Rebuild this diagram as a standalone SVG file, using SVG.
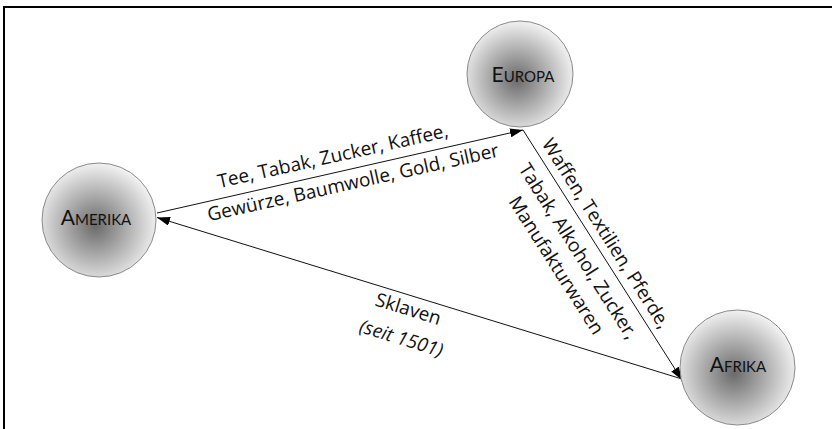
<svg xmlns="http://www.w3.org/2000/svg" width="832" height="429" viewBox="0 0 832 429">
<style>
.node circle{fill:url(#g);stroke:#8a8a8a;stroke-width:1}
.nl{font-family:Lato,"Open Sans",sans-serif;fill:#111;text-anchor:middle}
.nl .b{font-size:21px}
.nl .s{font-size:15px}
.edge{stroke:#111;stroke-width:1;fill:none;marker-end:url(#ah)}
.el{font-family:"Open Sans","Noto Sans",sans-serif;font-size:19px;fill:#111;text-anchor:middle}
.it{font-style:italic}
</style>
<defs>
<radialGradient id="g" cx="0.47" cy="0.55" r="0.56">
<stop offset="0" stop-color="#6a6a6a"/>
<stop offset="0.45" stop-color="#a8a8a8"/>
<stop offset="1" stop-color="#f4f4f4"/>
</radialGradient>
<marker id="ah" markerUnits="userSpaceOnUse" markerWidth="13" markerHeight="9" refX="13" refY="4.5" orient="auto">
<path d="M0,0 L13,4.5 L0,9 Z" fill="#000"/>
</marker>
</defs>
<rect width="832" height="429" fill="#fff"/>
<path d="M4 429V7H832" stroke="#000" stroke-width="2" fill="none"/>
<g id="connectors">
<path class="edge" d="M157,213 L523,130"/>
<path class="edge" d="M523,130 L682,380"/>
<path class="edge" d="M682,379 L157,217.5"/>
</g>
<g id="europa" class="node">
<circle cx="520" cy="74" r="53"/>
<text class="nl" x="523" y="82"><tspan class="b">E</tspan><tspan class="s">UROPA</tspan></text>
</g>
<g id="amerika" class="node">
<circle cx="99" cy="220" r="57"/>
<text class="nl" x="96" y="225"><tspan class="b">A</tspan><tspan class="s">MERIKA</tspan></text>
</g>
<g id="afrika" class="node">
<circle cx="737.5" cy="367.5" r="57.5"/>
<text class="nl" x="738" y="372"><tspan class="b">A</tspan><tspan class="s">FRIKA</tspan></text>
</g>
<g id="label-amerika-europa" transform="translate(157,213) rotate(-12.6)">
<text class="el" x="184" y="-10.7">Tee, Tabak, Zucker, Kaffee,</text>
<text class="el" x="198" y="19.5">Gewürze, Baumwolle, Gold, Silber</text>
</g>
<g id="label-europa-afrika" transform="translate(523,130) rotate(57.5)">
<text class="el" x="132" y="-8">Waffen, Textilien, Pferde,</text>
<text class="el" x="132" y="25">Tabak, Alkohol, Zucker,</text>
<text class="el" x="132" y="51">Manufakturwaren</text>
</g>
<g id="label-afrika-amerika" transform="translate(157,217.5) rotate(17.1)">
<text class="el" x="267" y="20">Sklaven</text>
<text class="el it" x="269" y="50">(seit 1501)</text>
</g>
</svg>
